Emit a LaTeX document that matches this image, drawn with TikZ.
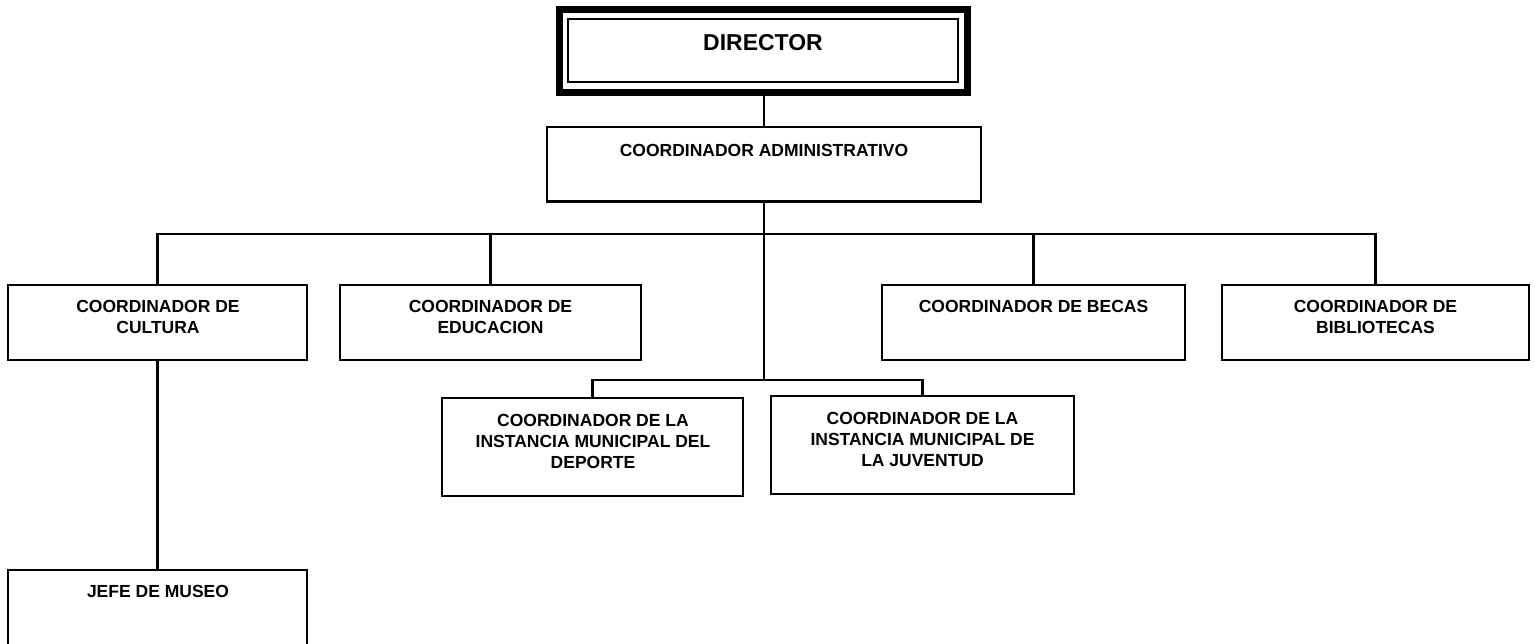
\documentclass[tikz,border=0pt]{standalone}
\usepackage{fontspec}
\setmainfont{Liberation Sans}
\begin{document}
\begin{tikzpicture}[x=1pt,y=-1pt,
  box/.style={draw, line width=2.2pt, rectangle, inner sep=0pt, outer sep=0pt},
  lbl/.style={font=\bfseries\fontsize{17.5}{21}\selectfont, align=center, inner sep=0pt, anchor=north},
  conn/.style={line width=2.1pt}]
\useasboundingbox (0,0) rectangle (1535,643);
\clip (0,0) rectangle (1535,643);
\fill[white] (0,0) rectangle (1535,643);

% Director
\node[box, line width=7pt, minimum width=408pt, minimum height=83pt] (dir) at (763.5,51) {};
\draw[line width=2pt] ([shift={(8.5,9)}]dir.north west) rectangle ([shift={(-9.5,-10.5)}]dir.south east);
\node[lbl, font=\bfseries\fontsize{23}{27}\selectfont] (dirT) at (763,34) {DIRECTOR};

% Coordinador administrativo
\node[box, minimum width=434pt, minimum height=74.5pt] (adm) at (764,164.25) {};
\node[lbl] (admT) at (764,144) {COORDINADOR ADMINISTRATIVO};

% First row
\node[box, minimum width=299pt, minimum height=75pt] (cult) at (157.5,322.5) {};
\node[lbl] (cultT) at (158,300.5) {COORDINADOR DE\\CULTURA};
\node[box, minimum width=301pt, minimum height=75pt] (edu) at (490.5,322.5) {};
\node[lbl] (eduT) at (490.5,300.5) {COORDINADOR DE\\EDUCACION};
\node[box, minimum width=303pt, minimum height=75pt] (bec) at (1033.5,322.5) {};
\node[lbl] (becT) at (1033.5,300.5) {COORDINADOR DE BECAS};
\node[box, minimum width=307pt, minimum height=75pt] (bib) at (1375.5,322.5) {};
\node[lbl] (bibT) at (1375.5,300.5) {COORDINADOR DE\\BIBLIOTECAS};

% Second row
\node[box, minimum width=301pt, minimum height=98pt] (dep) at (592.5,447) {};
\node[lbl] (depT) at (593,414) {COORDINADOR DE LA\\INSTANCIA MUNICIPAL DEL\\DEPORTE};
\node[box, minimum width=303pt, minimum height=98pt] (juv) at (922.5,445) {};
\node[lbl] (juvT) at (922.5,412) {COORDINADOR DE LA\\INSTANCIA MUNICIPAL DE\\LA JUVENTUD};

% Museo
\node[box, minimum width=299pt, minimum height=100pt] (mus) at (157.5,620) {};
\node[lbl] (musT) at (158,585) {JEFE DE MUSEO};

% Connectors
\coordinate (bus) at (764,234);
\coordinate (sub) at (764,380);
\draw[conn] (adm.north |- dir.south) -- (adm.north);
\draw[conn] (adm.south) -- (sub);
\draw[conn] (cult.north) -- (cult.north |- bus) -- (bib.north |- bus) -- (bib.north);
\draw[conn] (edu.north) -- (edu.north |- bus);
\draw[conn] (bec.north) -- (bec.north |- bus);
\draw[conn] (dep.north) -- (dep.north |- sub) -- (juv.north |- sub) -- (juv.north);
\draw[conn] (cult.south) -- (mus.north);
\end{tikzpicture}
\end{document}
